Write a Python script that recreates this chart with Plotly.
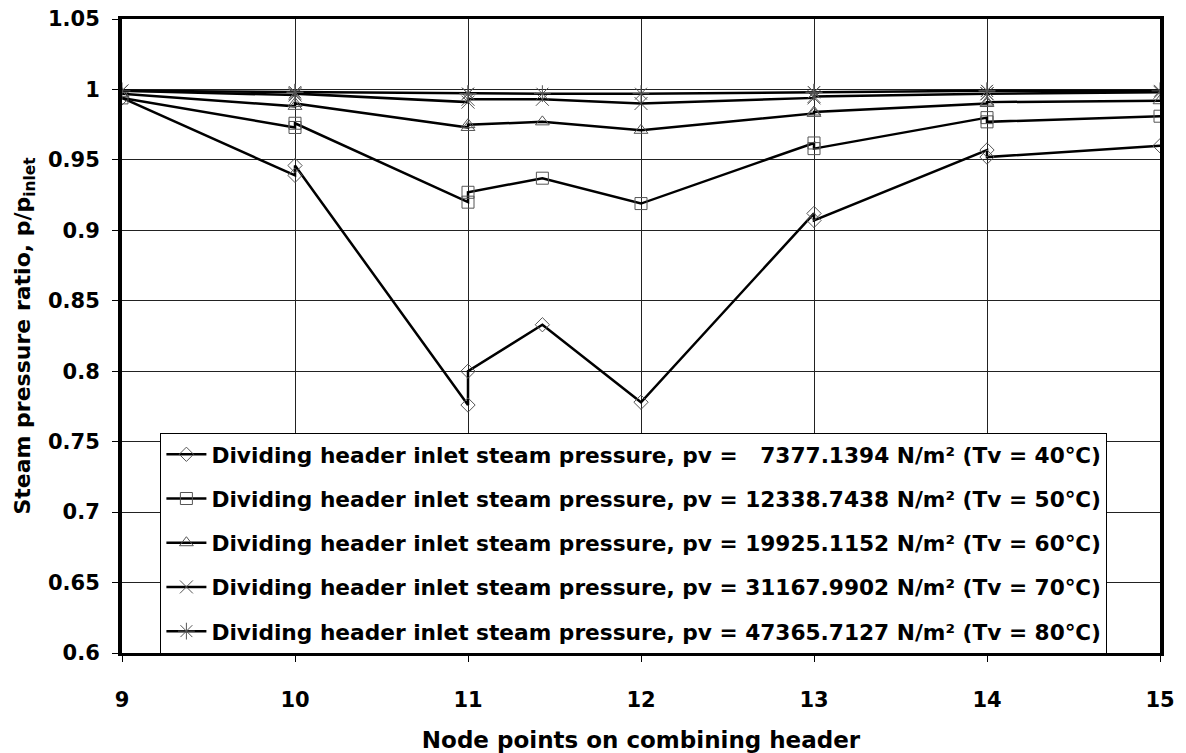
import plotly.graph_objects as go

# Node positions on the combining header (junction nodes carry two values)
nodes = [9, 10, 10, 11, 11, 11.43, 12, 13, 13, 14, 14, 15]

# Steam pressure ratio p/p_inlet for each inlet condition
ratio_40C = [0.994, 0.939, 0.946, 0.776, 0.800, 0.833, 0.778, 0.912, 0.907, 0.957, 0.952, 0.960]
ratio_50C = [0.994, 0.973, 0.976, 0.920, 0.927, 0.937, 0.919, 0.962, 0.958, 0.980, 0.977, 0.981]
ratio_60C = [0.997, 0.988, 0.990, 0.973, 0.975, 0.977, 0.971, 0.983, 0.984, 0.990, 0.991, 0.992]
ratio_70C = [0.999, 0.996, 0.997, 0.991, 0.993, 0.993, 0.990, 0.994, 0.995, 0.997, 0.997, 0.998]
ratio_80C = [0.999, 0.998, 0.998, 0.997, 0.997, 0.997, 0.997, 0.998, 0.998, 0.999, 0.999, 0.999]

series_names = [
    "Dividing header inlet steam pressure, pv = \u00a0\u00a07377.1394 N/m² (Tv = 40℃)",
    "Dividing header inlet steam pressure, pv = 12338.7438 N/m² (Tv = 50℃)",
    "Dividing header inlet steam pressure, pv = 19925.1152 N/m² (Tv = 60℃)",
    "Dividing header inlet steam pressure, pv = 31167.9902 N/m² (Tv = 70℃)",
    "Dividing header inlet steam pressure, pv = 47365.7127 N/m² (Tv = 80℃)",
]
series_values = [ratio_40C, ratio_50C, ratio_60C, ratio_70C, ratio_80C]
symbols = ["diamond-open", "square-open", "triangle-up-open", "x-thin-open", "asterisk-open"]
marker_sizes = [11, 12, 12, 13, 14]

y_tick_vals = [0.6, 0.65, 0.7, 0.75, 0.8, 0.85, 0.9, 0.95, 1.0, 1.05]
y_tick_text = ["0.6", "0.65", "0.7", "0.75", "0.8", "0.85", "0.9", "0.95", "1", "1.05"]
x_tick_vals = [9, 10, 11, 12, 13, 14, 15]

FONT = "DejaVu Sans"

fig = go.Figure()
for i, (name, vals, sym, ms) in enumerate(zip(series_names, series_values, symbols, marker_sizes)):
    fig.add_trace(go.Scatter(
        x=nodes, y=vals, name=name, mode="lines+markers",
        legendgroup=f"g{i}",
        line=dict(color="black", width=2.5),
        marker=dict(symbol=sym, size=ms, color="#555555",
                    line=dict(color="#555555", width=1)),
    ))

fig.update_layout(
    width=1186, height=753,
    margin=dict(l=122, r=26, t=19, b=100),
    paper_bgcolor="white", plot_bgcolor="white",
    font=dict(family=FONT, size=21, color="black"),
    showlegend=True,
    legend=dict(
        x=0.037, y=0.3475, xanchor="left", yanchor="top",
        bgcolor="white", bordercolor="black", borderwidth=1,
        font=dict(family=FONT, size=21.7, color="black", weight="bold"),
        tracegroupgap=13, itemwidth=40,
    ),
)

fig.update_xaxes(
    range=[9, 15], tickvals=x_tick_vals,
    showgrid=True, gridcolor="#222222", gridwidth=1,
    showline=True, linecolor="black", linewidth=3, mirror=True,
    ticks="outside", ticklen=6, tickwidth=1, tickcolor="black",
    ticklabelstandoff=20, automargin=False,
    tickfont=dict(family=FONT, size=21, color="black", weight="bold"),
    title=dict(text="Node points on combining header", standoff=25,
               font=dict(family=FONT, size=23, color="black", weight="bold")),
    zeroline=False,
)
fig.update_yaxes(
    range=[0.6, 1.05], tickvals=y_tick_vals, ticktext=y_tick_text,
    showgrid=True, gridcolor="#222222", gridwidth=1,
    showline=True, linecolor="black", linewidth=4, mirror=True,
    ticks="outside", ticklen=6, tickwidth=1, tickcolor="black",
    ticklabelstandoff=8, automargin=False,
    tickfont=dict(family=FONT, size=21, color="black", weight="bold"),
    title=dict(text="Steam pressure ratio, p/p<sub>inlet</sub>", standoff=12,
               font=dict(family=FONT, size=22, color="black", weight="bold")),
    zeroline=False,
)

fig.write_html("out.html")
